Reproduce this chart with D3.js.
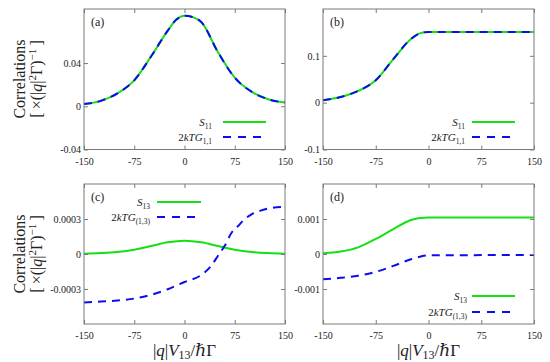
<!DOCTYPE html>
<html>
<head>
<meta charset="utf-8">
<script src="https://cdn.jsdelivr.net/npm/d3@7"></script>
<style>
  body { margin: 0; background: #fff; }
  svg text { font-family: "Liberation Serif", "DejaVu Serif", serif !important; }
</style>
</head>
<body>
<svg id="chart" width="550" height="362"></svg>
<script>
// x axis shared by all four panels
var xTicks = [-150, -75, 0, 75, 150];
var xTickLabels = ["-150", "-75", "0", "75", "150"];

// panel (a)
var qA = [-150, -125, -100, -75, -50, -25, -12.5, 0, 12.5, 25, 50, 75, 100, 125, 150];
var s11A = [0.002, 0.005, 0.012, 0.024, 0.046, 0.070, 0.080, 0.0837, 0.0825, 0.078, 0.050, 0.0265, 0.0135, 0.0065, 0.0034];
var yTicksA = [-0.04, 0, 0.04];
var yLabelsA = ["-0.04", "0", "0.04"];

// panel (b)
var qB = [-150, -125, -100, -75, -50, -25, -12.5, 0, 50, 100, 150];
var s11B = [0.005, 0.012, 0.025, 0.048, 0.093, 0.136, 0.148, 0.151, 0.151, 0.151, 0.151];
var yTicksB = [-0.1, 0, 0.1];
var yLabelsB = ["-0.1", "0", "0.1"];

// panel (c)
var qCs = [-150, -125, -100, -75, -50, -25, 0, 25, 50, 75, 100, 125, 150];
var s13C = [0.000002, 0.000008, 0.000018, 0.000037, 0.000068, 0.0001, 0.000114, 0.0001, 0.000068, 0.000037, 0.000018, 0.000008, 0.000002];
var qCg = [-150, -125, -100, -75, -50, -25, 0, 25, 40, 50, 60, 70, 80, 90, 100, 112.5, 125, 150];
var g13C = [-0.000415, -0.000408, -0.000398, -0.000382, -0.00035, -0.000302, -0.00024, -0.00018, -0.0001, -0.000015, 0.00007, 0.00018, 0.00024, 0.0003, 0.00034, 0.00037, 0.00039, 0.000405];
var yTicksC = [-0.0003, 0, 0.0003];
var yLabelsC = ["-0.0003", "0", "0.0003"];

// panel (d)
var qD = [-150, -125, -100, -75, -50, -25, -12.5, 0, 50, 100, 150];
var s13D = [0.00002, 0.00007, 0.00019, 0.00043, 0.00071, 0.00097, 0.00103, 0.00104, 0.00104, 0.00104, 0.00104];
var g13D = [-0.00072, -0.00068, -0.00062, -0.00051, -0.00034, -0.00015, -0.00008, -0.00004, -0.000035, -0.00003, -0.00003];
var yTicksD = [-0.001, 0, 0.001];
var yLabelsD = ["-0.001", "0", "0.001"];

var green = "#14e014", blue = "#0c0cee", frame = "#7a7a7a";

var svg = d3.select("#chart");

var line = function (x, y) {
    return d3.line()
        .x(function (d) { return x(d[0]); })
        .y(function (d) { return y(d[1]); })
        .curve(d3.curveMonotoneX);
};

// writes "S" + subscript, or "2kTG" + subscript
function legendText(g, x, y, kind, sub) {
    var t = g.append("text").attr("x", x).attr("y", y)
        .attr("text-anchor", "end").attr("font-size", 11).attr("fill", "#222");
    if (kind == "S") {
        t.append("tspan").attr("font-style", "italic").text("S");
    } else {
        t.append("tspan").text("2");
        t.append("tspan").attr("font-style", "italic").text("kTG");
    }
    t.append("tspan").attr("font-size", 7.5).attr("dy", 2.5).text(sub);
}

function drawPanel(p) {
    var g = svg.append("g").attr("transform", "translate(" + p.left + "," + p.top + ")");
    var x = d3.scaleLinear().domain([-150, 150]).range([0, p.w]);
    var y = d3.scaleLinear().domain(p.yDomain).range([p.h, 0]);

    // curves
    p.series.forEach(function (s) {
        g.append("path")
            .datum(d3.zip(s.q, s.v))
            .attr("d", line(x, y))
            .attr("fill", "none")
            .attr("stroke", s.dashed ? blue : green)
            .attr("stroke-width", 2)
            .attr("stroke-dasharray", s.dashed ? "8,6" : null);
    });

    // axes, ticks inward on all sides
    var bottom = g.append("g").attr("transform", "translate(0," + p.h + ")")
        .call(d3.axisBottom(x).tickValues(xTicks)
            .tickFormat(function (d, i) { return xTickLabels[i]; })
            .tickSize(-4).tickPadding(8));
    var top = g.append("g")
        .call(d3.axisTop(x).tickValues(xTicks).tickFormat("").tickSize(-4));
    var left = g.append("g")
        .call(d3.axisLeft(y).tickValues(p.yTicks)
            .tickFormat(function (d, i) { return p.yLabels[i]; })
            .tickSize(-4).tickPadding(3));
    var right = g.append("g").attr("transform", "translate(" + p.w + ",0)")
        .call(d3.axisRight(y).tickValues(p.yTicks).tickFormat("").tickSize(-4));
    [bottom, top, left, right].forEach(function (a) {
        a.select(".domain").remove();
        a.selectAll("line").attr("stroke", frame);
        a.selectAll("text").attr("font-size", 10).attr("fill", "#222");
    });
    g.append("rect").attr("width", p.w).attr("height", p.h)
        .attr("fill", "none").attr("stroke", frame).attr("stroke-width", 1);

    // panel letter
    g.append("text").attr("x", 7).attr("y", 17).attr("font-size", 12)
        .attr("fill", "#222").text(p.letter);

    // legend
    var L = p.legend;
    legendText(g, L.tx, L.y1 + 4, "S", L.sub1);
    g.append("line").attr("x1", L.lx1).attr("x2", L.lx2).attr("y1", L.y1).attr("y2", L.y1)
        .attr("stroke", green).attr("stroke-width", 2);
    legendText(g, L.tx, L.y2 + 4, "G", L.sub2);
    g.append("line").attr("x1", L.lx1).attr("x2", L.lx2).attr("y1", L.y2).attr("y2", L.y2)
        .attr("stroke", blue).attr("stroke-width", 2).attr("stroke-dasharray", "8,7");
}

drawPanel({
    letter: "(a)", left: 84, top: 9, w: 201, h: 140.5,
    yDomain: [-0.04, 0.09], yTicks: yTicksA, yLabels: yLabelsA,
    series: [{ q: qA, v: s11A }, { q: qA, v: s11A, dashed: true }],
    legend: { tx: 128, lx1: 139, lx2: 182, y1: 113, y2: 128, sub1: "11", sub2: "1,1" }
});
drawPanel({
    letter: "(b)", left: 323, top: 9, w: 211, h: 140.5,
    yDomain: [-0.1, 0.2], yTicks: yTicksB, yLabels: yLabelsB,
    series: [{ q: qB, v: s11B }, { q: qB, v: s11B, dashed: true }],
    legend: { tx: 142, lx1: 149, lx2: 192, y1: 113, y2: 128, sub1: "11", sub2: "1,1" }
});
drawPanel({
    letter: "(c)", left: 84, top: 184, w: 201, h: 140,
    yDomain: [-0.0006, 0.0006], yTicks: yTicksC, yLabels: yLabelsC,
    series: [{ q: qCs, v: s13C }, { q: qCg, v: g13C, dashed: true }],
    legend: { tx: 66, lx1: 73, lx2: 117, y1: 18, y2: 33, sub1: "13", sub2: "(1,3)" }
});
drawPanel({
    letter: "(d)", left: 323, top: 184, w: 211, h: 140,
    yDomain: [-0.002, 0.002], yTicks: yTicksD, yLabels: yLabelsD,
    series: [{ q: qD, v: s13D }, { q: qD, v: g13D, dashed: true }],
    legend: { tx: 144, lx1: 149, lx2: 192, y1: 112, y2: 128, sub1: "13", sub2: "(1,3)" }
});

// y titles
[79, 254].forEach(function (cy) {
    var g = svg.append("g").attr("transform", "translate(0," + cy + ") rotate(-90)")
        .attr("fill", "#222").attr("text-anchor", "middle").attr("font-size", 16);
    g.append("text").attr("x", 0).attr("y", 25).text("Correlations");
    var t = g.append("text").attr("x", 0).attr("y", 42);
    t.append("tspan").text("[\u2009×(|");
    t.append("tspan").attr("font-style", "italic").text("q");
    t.append("tspan").text("|");
    t.append("tspan").attr("font-size", 11).attr("dy", -6).text("2");
    t.append("tspan").attr("dy", 6).text("Γ)");
    t.append("tspan").attr("font-size", 11).attr("dy", -6).text("−1");
    t.append("tspan").attr("dy", 6).text("\u2009]");
});

// x titles
[184.5, 428.5].forEach(function (cx) {
    var t = svg.append("text").attr("x", cx).attr("y", 356).attr("fill", "#222")
        .attr("text-anchor", "middle").attr("font-size", 17);
    t.append("tspan").text("|");
    t.append("tspan").attr("font-style", "italic").text("q");
    t.append("tspan").text("|");
    t.append("tspan").attr("font-style", "italic").text("V");
    t.append("tspan").attr("font-size", 12).attr("dy", 3).text("13");
    t.append("tspan").attr("dy", -3).text("/");
    t.append("tspan").attr("font-style", "italic").text("ℏ");
    t.append("tspan").text("Γ");
});
</script>
</body>
</html>
